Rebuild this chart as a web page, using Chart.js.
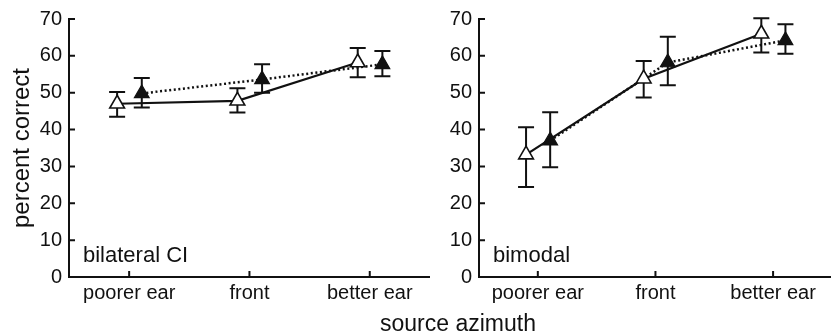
<!DOCTYPE html>
<html>
<head>
<meta charset="utf-8">
<script src="https://cdn.jsdelivr.net/npm/chart.js@4.4.1/dist/chart.umd.min.js"></script>
<style>
  html, body { margin: 0; padding: 0; background: #fff; overflow: hidden; }
  body { width: 831px; height: 335px; position: relative; font-family: "Liberation Sans", Arial, sans-serif; }
  .panel { position: absolute; top: 0; height: 335px; }
  #xTitle { position: absolute; left: 458px; top: 323px; transform: translate(-50%, -50%); font-size: 23px; color: #111; white-space: nowrap; }
</style>
</head>
<body>
<div class="panel" style="left:0; width:440px;"><canvas id="chart1"></canvas></div>
<div class="panel" style="left:440px; width:402px;"><canvas id="chart2"></canvas></div>
<div id="xTitle">source azimuth</div>
<script>
// categories + values
const categories = ['poorer ear', 'front', 'better ear'];

// bilateral CI panel
const bilateralOpen = [47.0, 47.8, 58.2];
const bilateralOpenLo = [43.5, 44.6, 54.2];
const bilateralOpenHi = [50.2, 51.2, 62.1];
const bilateralFilled = [49.8, 53.6, 57.7];
const bilateralFilledLo = [46.0, 50.0, 54.5];
const bilateralFilledHi = [54.0, 57.7, 61.3];

// bimodal panel
const bimodalOpen = [33.2, 53.8, 66.0];
const bimodalOpenLo = [24.4, 48.7, 60.9];
const bimodalOpenHi = [40.6, 58.6, 70.2];
const bimodalFilled = [37.0, 58.2, 64.2];
const bimodalFilledLo = [29.8, 52.0, 60.6];
const bimodalFilledHi = [44.7, 65.2, 68.6];

const yMin = 0, yMax = 70, yStep = 10;

// horizontal shift of the two conditions around each category
const shiftOpen = -0.1;
const shiftFilled = 0.105;

const ink = '#111';
const font = '"Liberation Sans", Arial, sans-serif';

const toPoints = (vals, shift) => vals.map((v, i) => ({ x: i + shift, y: v }));

const errorBars = {
    id: 'errorBars',
    beforeDatasetsDraw(chart) {
        const { ctx, scales: { x, y } } = chart;
        ctx.save();
        ctx.strokeStyle = ink;
        ctx.lineWidth = 2;
        chart.data.datasets.forEach(ds => {
            ds.data.forEach((p, i) => {
                const px = x.getPixelForValue(p.x);
                const top = y.getPixelForValue(ds.errHi[i]);
                const bot = y.getPixelForValue(ds.errLo[i]);
                ctx.beginPath();
                ctx.moveTo(px, top); ctx.lineTo(px, bot);
                ctx.moveTo(px - 8, top); ctx.lineTo(px + 8, top);
                ctx.moveTo(px - 8, bot); ctx.lineTo(px + 8, bot);
                ctx.stroke();
            });
        });
        ctx.restore();
    }
};

// inward tick marks + panel label
const decorations = {
    id: 'decorations',
    afterDraw(chart) {
        const { ctx, chartArea, scales: { x, y } } = chart;
        ctx.save();
        ctx.strokeStyle = ink;
        ctx.lineWidth = 2;
        ctx.beginPath();
        x.ticks.forEach(t => {
            const px = x.getPixelForValue(t.value);
            ctx.moveTo(px, chartArea.bottom); ctx.lineTo(px, chartArea.bottom - 6);
        });
        y.ticks.forEach(t => {
            const py = y.getPixelForValue(t.value);
            ctx.moveTo(chartArea.left, py); ctx.lineTo(chartArea.left + 6, py);
        });
        ctx.stroke();
        const label = chart.options.plugins.decorations.label;
        ctx.fillStyle = ink;
        ctx.font = '22px ' + font;
        ctx.textBaseline = 'middle';
        ctx.fillText(label, chartArea.left + 14, y.getPixelForValue(5.8));
        ctx.restore();
    }
};

function makeChart(canvasId, opts) {
    const canvas = document.getElementById(canvasId);
    canvas.width = opts.width;
    canvas.height = 335;
    return new Chart(canvas, {
        type: 'line',
        data: {
            datasets: [
                {
                    data: toPoints(opts.open, shiftOpen),
                    errLo: opts.openLo, errHi: opts.openHi,
                    borderColor: ink, borderWidth: 2.2,
                    pointStyle: 'triangle', pointRadius: 8.5,
                    pointBackgroundColor: '#fff', pointBorderColor: ink, pointBorderWidth: 1.6,
                    tension: 0,
                },
                {
                    data: toPoints(opts.filled, shiftFilled),
                    errLo: opts.filledLo, errHi: opts.filledHi,
                    borderColor: ink, borderWidth: 2.5, borderDash: [2, 2.6],
                    pointStyle: 'triangle', pointRadius: 8.5,
                    pointBackgroundColor: ink, pointBorderColor: ink, pointBorderWidth: 1.2,
                    tension: 0,
                },
            ],
        },
        options: {
            responsive: false,
            animation: false,
            layout: { padding: { top: 14, right: 0, bottom: 0, left: 0 } },
            plugins: {
                legend: { display: false },
                tooltip: { enabled: false },
                decorations: { label: opts.label },
            },
            scales: {
                x: {
                    type: 'linear',
                    min: -0.5, max: 2.5,
                    grid: { display: false, drawTicks: false },
                    border: { display: true, color: ink, width: 2 },
                    afterFit: s => { s.height = 58; },
                    afterBuildTicks: s => { s.ticks = categories.map((c, i) => ({ value: i })); },
                    ticks: {
                        color: ink, padding: 4,
                        font: { family: font, size: 20 },
                        callback: v => categories[v],
                    },
                },
                y: {
                    min: yMin, max: yMax,
                    grid: { display: false, drawTicks: false },
                    border: { display: true, color: ink, width: 2 },
                    afterFit: s => { s.width = opts.yWidth; },
                    ticks: {
                        stepSize: yStep, color: ink, padding: 7,
                        font: { family: font, size: 20 },
                    },
                    title: {
                        display: opts.yTitle !== '',
                        text: opts.yTitle,
                        color: ink,
                        padding: { top: 8, bottom: 0 },
                        font: { family: font, size: 24 },
                    },
                },
            },
        },
        plugins: [errorBars, decorations],
    });
}

makeChart('chart1', {
    width: 440, yWidth: 69, yTitle: 'percent correct', label: 'bilateral CI',
    open: bilateralOpen, openLo: bilateralOpenLo, openHi: bilateralOpenHi,
    filled: bilateralFilled, filledLo: bilateralFilledLo, filledHi: bilateralFilledHi,
});
makeChart('chart2', {
    width: 402, yWidth: 39, yTitle: '', label: 'bimodal',
    open: bimodalOpen, openLo: bimodalOpenLo, openHi: bimodalOpenHi,
    filled: bimodalFilled, filledLo: bimodalFilledLo, filledHi: bimodalFilledHi,
});
</script>
</body>
</html>
